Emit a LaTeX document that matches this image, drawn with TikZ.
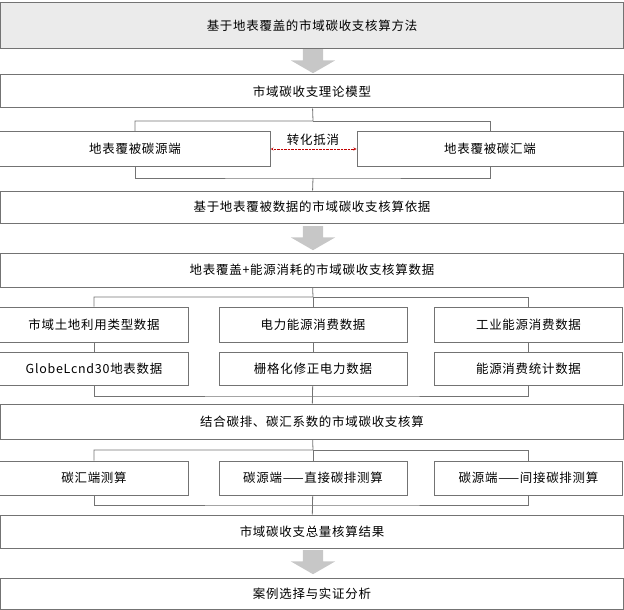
\documentclass[tikz,border=0pt]{standalone}
\usepackage{fontspec}
\usepackage{tikz}
\usetikzlibrary{arrows,shapes}
\newfontfamily\cjk[LetterSpace=6]{Noto Sans CJK SC}

\begin{document}
\begin{tikzpicture}[x=1bp,y=-1bp]
  \tikzstyle{every node}=[font=\cjk\fontsize{12.5}{14}\selectfont,text=black]
  \tikzstyle{box}=[rectangle,draw=black!55,line width=1bp,inner sep=0pt,minimum height=33bp]
  \tikzstyle{wide}=[box,minimum width=623bp]
  \tikzstyle{cell}=[box,minimum width=188bp,minimum height=34bp]
  \tikzstyle{bigarrow}=[single arrow,fill=black!22,draw=none,rotate=-90,inner xsep=0pt,inner ysep=10bp,
    minimum height=24bp,single arrow head extend=12bp,single arrow tip angle=120]
  \tikzstyle{link}=[draw=black!55,line width=0.8bp]
  \useasboundingbox (0,0) rectangle (624,610);
  % method
  \node[wide,fill=black!8,minimum height=46bp] (t0) at (312,26) {基于地表覆盖的市域碳收支核算方法};
  \node[bigarrow,anchor=tail] (a1) at (313,49) {};
  % model
  \node[wide] (m1) at (312,91.5) {市域碳收支理论模型};
  \node[box,minimum width=270bp,minimum height=34bp] (src) at (135,149) {地表覆被碳源端};
  \node[box,minimum width=266bp,minimum height=34bp] (sink) at (490,149) {地表覆被碳汇端};
  \node (lb) at (313,140) {转化抵消};
  \draw[red!75!black,densely dotted,<->,>=stealth] (src) -- (sink);
  \coordinate (j1) at (313,121);
  \coordinate (j2) at (313,178);
  \draw[link] (m1) -- (j1) -| (src);
  \draw[link] (j1) -| (sink);
  \draw[link] (src) |- (j2) -| (sink);
  \node[wide,minimum height=32bp] (m2) at (312,207) {基于地表覆被数据的市域碳收支核算依据};
  \draw[link] (j2) -- (m2);
  \node[bigarrow,anchor=tail] (a2) at (313,226) {};
  % data
  \node[wide,minimum height=34bp] (m3) at (312,270) {地表覆盖+能源消耗的市域碳收支核算数据};
  \node[cell,minimum height=35bp] (d11) at (94,324.5) {市域土地利用类型数据};
  \node[cell,minimum height=35bp] (d12) at (313,324.5) {电力能源消费数据};
  \node[cell,minimum height=35bp] (d13) at (528.5,324.5) {工业能源消费数据};
  \node[cell,minimum height=33bp] (d21) at (94,368.5) {GlobeLcnd30地表数据};
  \node[cell,minimum height=33bp] (d22) at (313,368.5) {栅格化修正电力数据};
  \node[cell,minimum height=33bp] (d23) at (528.5,368.5) {能源消费统计数据};
  \coordinate (j3) at (313,297);
  \coordinate (j4) at (313,396);
  \draw[link] (m3) -- (j3) -| (d11);
  \draw[link] (j3) -| (d13);
  \draw[link] (j3) -- (d12);
  \draw[link] (d11) -- (d21);
  \draw[link] (d12) -- (d22);
  \draw[link] (d13) -- (d23);
  \draw[link] (d21) |- (j4) -| (d23);
  % accounting
  \node[wide,minimum height=35bp] (m4) at (312,421.5) {结合碳排、碳汇系数的市域碳收支核算};
  \draw[link] (d22) -- (m4);
  \node[cell] (c1) at (94,478) {碳汇端测算};
  \node[cell] (c2) at (313,478) {碳源端——直接碳排测算};
  \node[cell] (c3) at (528.5,478) {碳源端——间接碳排测算};
  \coordinate (j5) at (313,450);
  \coordinate (j6) at (313,505);
  \draw[link] (m4) -- (j5) -| (c1);
  \draw[link] (j5) -| (c3);
  \draw[link] (j5) -- (c2);
  \draw[link] (c1) |- (j6) -| (c3);
  \node[wide] (m5) at (312,531.5) {市域碳收支总量核算结果};
  \draw[link] (c2) -- (m5);
  \node[bigarrow,anchor=tail] (a3) at (313,550) {};
  \node[wide,minimum height=31bp] (m6) at (312,593.5) {案例选择与实证分析};
\end{tikzpicture}
\end{document}
